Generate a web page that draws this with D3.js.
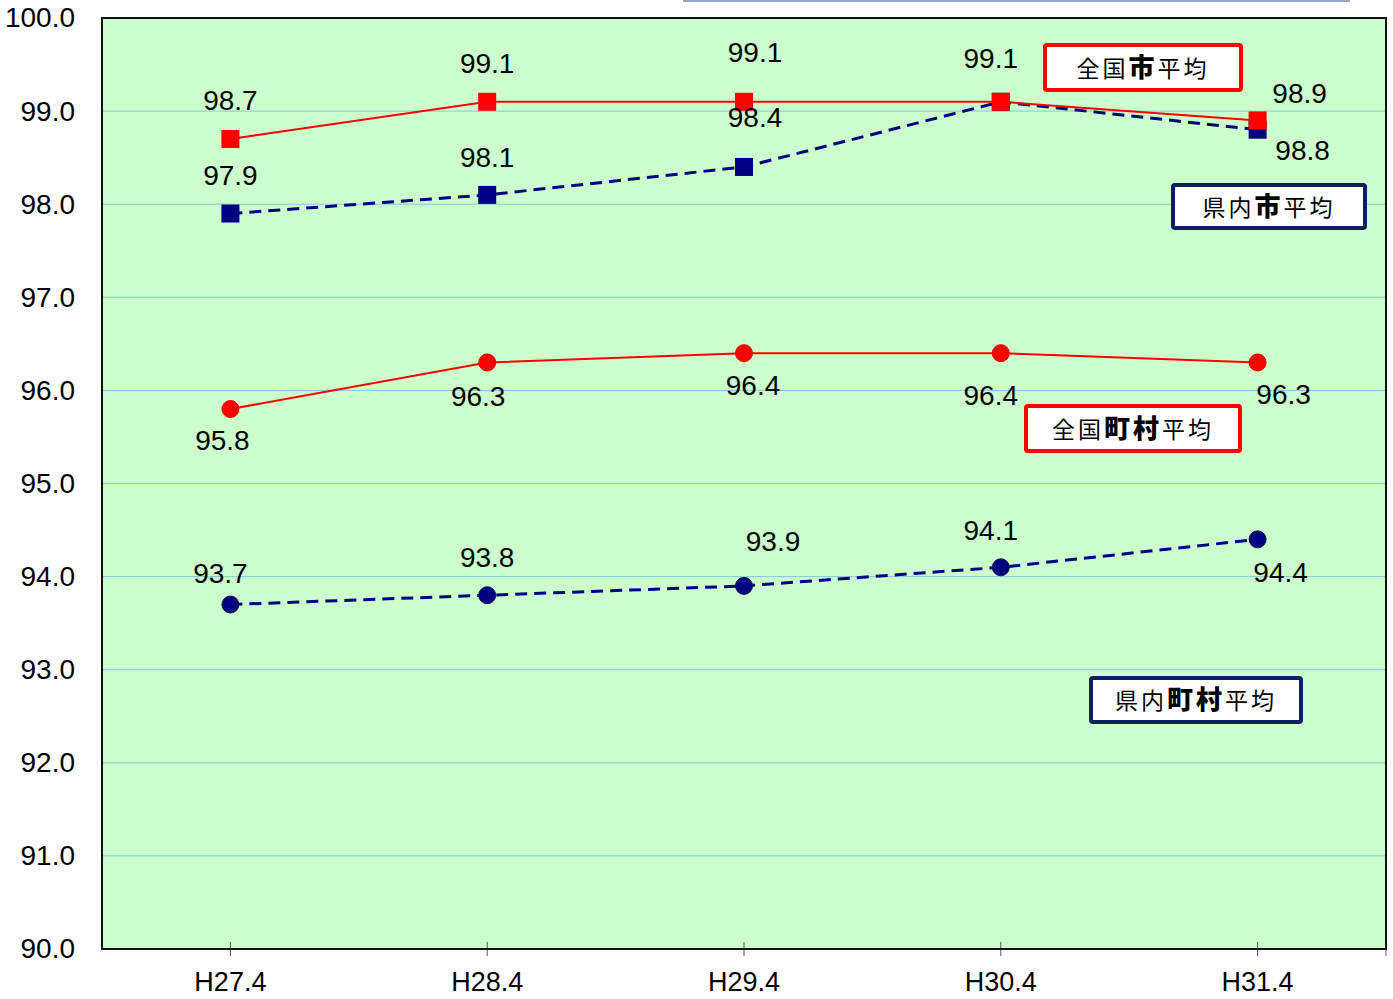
<!DOCTYPE html>
<html>
<head>
<meta charset="utf-8">
<script src="https://cdn.jsdelivr.net/npm/d3@7"></script>
<style>
  html, body { margin: 0; padding: 0; background: #ffffff; }
  svg { display: block; }
  text { font-family: "Liberation Sans", Arial, sans-serif; }
  .jp { font-family: "Noto Sans CJK JP", sans-serif; }
</style>
</head>
<body>
<svg id="chart" width="1393" height="999"></svg>
<script>
// Survey points (fiscal year, April)
const categories = ["H27.4", "H28.4", "H29.4", "H30.4", "H31.4"];

// Averages (%)
const zenkokuShi    = [98.7, 99.1, 99.1, 99.1, 98.9]; // 全国市平均
const kennaiShi     = [97.9, 98.1, 98.4, 99.1, 98.8]; // 県内市平均
const zenkokuChoson = [95.8, 96.3, 96.4, 96.4, 96.3]; // 全国町村平均
const kennaiChoson  = [93.7, 93.8, 93.9, 94.1, 94.4]; // 県内町村平均

const yTicks = [90, 91, 92, 93, 94, 95, 96, 97, 98, 99, 100];

// Value-label offsets (dx, dy from each marker); null = label not drawn
const offZenkokuShi    = [[0,-39],[0,-39],[11,-50],[-10,-44],[42,-27]];
const offKennaiShi     = [[0,-39],[0,-38],[11,-50],null,[45,20]];
const offZenkokuChoson = [[-8,31],[-9,34],[9,32],[-10,42],[26,32]];
const offKennaiChoson  = [[-10,-32],[0,-38],[29,-45],[-10,-37],[23,33]];

const svg = d3.select("#chart");
const plotL = 102, plotR = 1386, plotT = 18, plotB = 949;

const x = d3.scaleBand().domain(categories).range([plotL, plotR]).padding(0);
const y = d3.scaleLinear().domain([90, 100]).range([plotB, plotT]);
const cx = c => x(c) + x.bandwidth() / 2;

// Thin rule above the chart
svg.append("line").attr("x1", 683).attr("x2", 1350).attr("y1", 1).attr("y2", 1)
  .attr("stroke", "#8ea7c8").attr("stroke-width", 2);

// Plot background
svg.append("rect").attr("x", plotL).attr("y", plotT)
  .attr("width", plotR - plotL).attr("height", plotB - plotT)
  .attr("fill", "#ccffcc");

// Gridlines
svg.append("g").selectAll("line").data(yTicks.filter(v => v > 90 && v < 100)).join("line")
  .attr("x1", plotL).attr("x2", plotR)
  .attr("y1", d => y(d)).attr("y2", d => y(d))
  .attr("stroke", "#86c9d6").attr("stroke-width", 1);

// Y axis labels
const yAxis = d3.axisLeft(y).tickValues(yTicks).tickFormat(d3.format(".1f")).tickSize(0).tickPadding(27);
const gy = svg.append("g").attr("transform", `translate(${plotL},0)`).call(yAxis);
gy.select(".domain").remove();
gy.selectAll("text").attr("font-size", 28).attr("fill", "#000")
  .attr("font-family", "'Liberation Sans', Arial, sans-serif");

// X axis
const xAxis = d3.axisBottom(x).tickSizeInner(7).tickSizeOuter(0).tickPadding(16);
const gx = svg.append("g").attr("transform", `translate(0,${plotB})`).call(xAxis);
gx.select(".domain").remove();
gx.selectAll(".tick line").attr("y1", -7).attr("y2", 7).attr("stroke", "#555");
gx.selectAll("text").attr("font-size", 27).attr("fill", "#000")
  .attr("font-family", "'Liberation Sans', Arial, sans-serif");
svg.append("line").attr("x1", plotR).attr("x2", plotR).attr("y1", plotB).attr("y2", plotB + 7)
  .attr("stroke", "#555");

// Plot frame
svg.append("rect").attr("x", plotL).attr("y", plotT)
  .attr("width", plotR - plotL).attr("height", plotB - plotT)
  .attr("fill", "none").attr("stroke", "#111").attr("stroke-width", 2);

const series = [
  { values: kennaiChoson,  offs: offKennaiChoson,  color: "#000080", dash: "12,7", width: 3, shape: "circle" },
  { values: zenkokuChoson, offs: offZenkokuChoson, color: "#ff0000", dash: null,   width: 2, shape: "circle" },
  { values: kennaiShi,     offs: offKennaiShi,     color: "#000080", dash: "12,7", width: 3, shape: "square" },
  { values: zenkokuShi,    offs: offZenkokuShi,    color: "#ff0000", dash: null,   width: 2, shape: "square" }
];

const line = d3.line().x((d, i) => cx(categories[i])).y(d => y(d));

series.forEach(s => {
  const g = svg.append("g");
  g.append("path").datum(s.values).attr("d", line)
    .attr("fill", "none").attr("stroke", s.color).attr("stroke-width", s.width)
    .attr("stroke-dasharray", s.dash);
  if (s.shape === "square") {
    g.selectAll("rect").data(s.values).join("rect")
      .attr("x", (d, i) => cx(categories[i]) - 9).attr("y", d => y(d) - 9)
      .attr("width", 18).attr("height", 18).attr("fill", s.color);
  } else {
    g.selectAll("circle").data(s.values).join("circle")
      .attr("cx", (d, i) => cx(categories[i])).attr("cy", d => y(d)).attr("r", 8.5)
      .attr("fill", s.color)
      .attr("stroke", s.color === "#ff0000" ? "#ee0000" : "#0a1a4a").attr("stroke-width", 1);
  }
});

// Value labels
series.forEach(s => {
  svg.append("g").selectAll("text")
    .data(s.values.map((v, i) => ({ v, i, o: s.offs[i] })).filter(d => d.o))
    .join("text")
    .attr("x", d => cx(categories[d.i]) + d.o[0])
    .attr("y", d => y(d.v) + d.o[1] + 10)
    .attr("text-anchor", "middle").attr("font-size", 28).attr("fill", "#000")
    .text(d => d3.format(".1f")(d.v));
});

// Series name boxes
const boxes = [
  { parts: [["全国", false], ["市", true], ["平均", false]], color: "#ff0000", box: [1045, 45, 196, 45] },
  { parts: [["県内", false], ["市", true], ["平均", false]], color: "#0c2060", box: [1173, 185, 192, 43] },
  { parts: [["全国", false], ["町村", true], ["平均", false]], color: "#ff0000", box: [1026, 406, 214, 45] },
  { parts: [["県内", false], ["町村", true], ["平均", false]], color: "#0c2060", box: [1091, 678, 210, 44] }
];

boxes.forEach(b => {
  const [bx, by, bw, bh] = b.box;
  const g = svg.append("g");
  g.append("rect").attr("x", bx).attr("y", by).attr("width", bw).attr("height", bh)
    .attr("rx", 2).attr("fill", "#fff").attr("stroke", b.color).attr("stroke-width", 4);
  const t = g.append("text").attr("class", "jp")
    .attr("x", bx + bw / 2).attr("y", by + bh / 2 + 9)
    .attr("text-anchor", "middle").attr("fill", "#000")
    .attr("font-size", 23).attr("letter-spacing", 3);
  b.parts.forEach(([txt, bold]) => {
    t.append("tspan").text(txt)
      .attr("font-weight", bold ? 900 : 400)
      .attr("font-size", bold ? 26 : 23);
  });
});
</script>
</body>
</html>
